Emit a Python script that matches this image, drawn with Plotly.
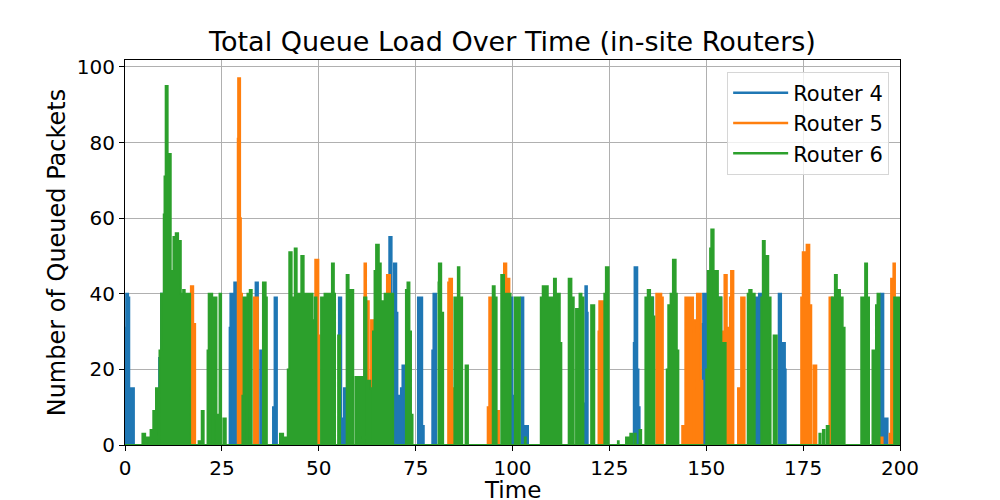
import plotly.graph_objects as go

# (time, queued packets) change points per router;
# each value holds until the next time
router4 = [
    (0, 31), (0.3, 40), (0.8, 39), (1.1, 5), (1.6, 15), (2.3, 0),
    (8.8, 23), (9.3, 40), (9.7, 0),
    (27.0, 31), (27.2, 40), (27.8, 0), (28.2, 43), (28.7, 0),
    (33.7, 43), (34.3, 0), (34.9, 25), (35.4, 0),
    (38.2, 10), (38.6, 39), (39.2, 0),
    (55.2, 39), (55.8, 7), (56.0, 0), (56.5, 15), (56.9, 0),
    (68.2, 55), (68.8, 30), (69.4, 48), (70.0, 35), (70.3, 0),
    (70.6, 13), (71.2, 15), (71.6, 21), (72.2, 0),
    (75.6, 39), (76.7, 5), (77.1, 0),
    (79.3, 25), (79.6, 40), (80.3, 0),
    (99.6, 39), (100.0, 13), (100.3, 0),
    (102.3, 39), (102.8, 0), (103.3, 5), (104.0, 0),
    (118.5, 11), (118.8, 42), (119.2, 35), (119.4, 0),
    (131.3, 27), (131.5, 47), (132.2, 20), (132.5, 10), (132.8, 0),
    (135.8, 39), (136.3, 0),
    (147.6, 39), (148.2, 0),
    (149.0, 32), (149.2, 40), (150.0, 0),
    (153.3, 39), (153.9, 0),
    (162.5, 30), (162.7, 39), (163.3, 0), (163.6, 40), (164.2, 0),
    (168.7, 40), (169.3, 0), (169.8, 27), (170.3, 20), (170.5, 0),
    (195.1, 40), (195.7, 0), (196.2, 7), (196.8, 0), (200, 0),
]

router5 = [
    (0, 0),
    (17.0, 42), (17.6, 32), (18.1, 0),
    (29.1, 81), (29.2, 97), (29.7, 60), (29.9, 40), (30.2, 0),
    (33.3, 39), (34.3, 0),
    (49.1, 49), (49.9, 29), (50.2, 0),
    (61.8, 48), (62.2, 0), (62.4, 38), (62.9, 0), (63.5, 33), (64.1, 0),
    (64.8, 46), (65.4, 0), (67.6, 45), (68.4, 38), (68.8, 0),
    (83.4, 43), (83.7, 44), (84.4, 15), (84.8, 0),
    (93.6, 10), (94.0, 39), (94.7, 0), (96.0, 9), (96.5, 0),
    (97.8, 48), (98.4, 0), (98.6, 44), (99.2, 0),
    (122.2, 30), (122.4, 38), (123.4, 0),
    (137.1, 40), (138.4, 39), (138.8, 0),
    (143.8, 5), (144.6, 39), (146.6, 0),
    (147.0, 33), (147.6, 40), (148.6, 17), (149.0, 0),
    (154.3, 30), (154.7, 45), (155.3, 0), (155.8, 31), (156.1, 39), (156.4, 46), (157.0, 0),
    (158.2, 15), (159.0, 39), (159.9, 0),
    (174.5, 39), (174.9, 51), (175.5, 40), (175.9, 53), (176.6, 37), (177.1, 0),
    (177.7, 21), (178.4, 0),
    (181.8, 39), (182.5, 0),
    (195.0, 2), (195.5, 0), (197.3, 3), (197.7, 44), (198.1, 0), (198.3, 48), (198.7, 0),
    (200, 0),
]

router6 = [
    (0, 0),
    (4.5, 3), (5.2, 0), (5.6, 2), (6.3, 0), (6.6, 4), (7.0, 0), (7.3, 9), (7.8, 0),
    (8.0, 15), (8.6, 0),
    (8.9, 25), (9.3, 40), (10.0, 61), (10.2, 71), (10.5, 95), (11.0, 77), (11.8, 46),
    (12.5, 55), (13.1, 56), (13.7, 40), (13.8, 54), (14.4, 40), (15.0, 41), (15.4, 39),
    (15.7, 40), (16.8, 0),
    (19.0, 1), (19.6, 0), (19.8, 9), (20.3, 0),
    (21.3, 25), (21.6, 40), (22.5, 0), (22.9, 39), (23.6, 0), (24.0, 8), (24.4, 40),
    (24.8, 0), (25.4, 7), (26.0, 0),
    (30.3, 13), (30.6, 39), (31.3, 0), (31.6, 40), (32.2, 41), (32.7, 0),
    (35.6, 43), (36.3, 39), (36.6, 0),
    (40.0, 3), (40.8, 0), (41.2, 2), (41.6, 0),
    (42.0, 20), (42.4, 51), (43.0, 39), (43.8, 52), (44.3, 40), (45.5, 50), (46.1, 40),
    (48.4, 33), (49.0, 39), (49.4, 0),
    (50.6, 39), (51.5, 40), (53.4, 48), (53.9, 40), (54.2, 0), (55.0, 29), (55.5, 0),
    (57.2, 45), (57.7, 41), (58.9, 0),
    (59.5, 18), (61.4, 0), (61.7, 39), (62.3, 0),
    (62.7, 17), (63.3, 15), (63.9, 0), (64.0, 30), (64.4, 46), (64.8, 53), (65.5, 48),
    (66.0, 38), (67.0, 40), (68.0, 39), (68.5, 40), (69.2, 0),
    (72.5, 41), (72.9, 43), (73.4, 30), (73.8, 8), (74.2, 0),
    (80.9, 43), (81.0, 48), (81.6, 35), (82.1, 0),
    (85.0, 39), (85.9, 47), (86.3, 39), (87.0, 0), (87.9, 21), (88.5, 0),
    (94.9, 42), (95.4, 39), (95.9, 0),
    (97.1, 45), (97.8, 40), (99.5, 0),
    (100.6, 39), (101.9, 0),
    (103.2, 2), (103.4, 0),
    (107.3, 39), (107.8, 42), (108.2, 39), (108.6, 42), (109.1, 39), (110.7, 44),
    (111.2, 40), (112.2, 27), (112.6, 0),
    (114.5, 44), (115.2, 39), (115.8, 0), (116.4, 36), (116.9, 0), (117.3, 40),
    (117.8, 39), (118.3, 0),
    (120.3, 37), (121.1, 0),
    (123.7, 40), (124.1, 47), (124.8, 0),
    (127.2, 1), (127.4, 0), (129.3, 2), (130.1, 0), (130.4, 3), (130.9, 0),
    (131.5, 3), (131.8, 0), (132.8, 4), (133.2, 0),
    (134.3, 39), (134.9, 41), (135.5, 39), (136.2, 34), (136.6, 0),
    (139.8, 20), (140.2, 37), (140.8, 40), (141.4, 49), (142.1, 40), (142.4, 25), (142.8, 0),
    (150.0, 20), (150.4, 46), (151.0, 52), (151.3, 57), (151.9, 39), (152.4, 46),
    (153.0, 39), (153.9, 27), (155.0, 0),
    (160.7, 40), (161.1, 41), (161.7, 40), (162.5, 0),
    (164.2, 39), (164.6, 54), (165.1, 39), (165.3, 50), (166.0, 39), (166.6, 0),
    (167.4, 29), (168.2, 0),
    (179.2, 3), (179.5, 0), (180.1, 4), (180.5, 0), (181.1, 5), (181.6, 0),
    (182.4, 39), (183.2, 45), (183.7, 39), (184.0, 41), (184.5, 39), (185.2, 31), (185.7, 0),
    (190.0, 39), (191.0, 48), (191.5, 39), (192.0, 0),
    (192.9, 25), (193.8, 37), (194.2, 40), (194.7, 0),
    (198.5, 39), (200, 39),
]

series = [("Router 4", router4, "#1f77b4"),
          ("Router 5", router5, "#ff7f0e"),
          ("Router 6", router6, "#2ca02c")]

x_ticks = [0, 25, 50, 75, 100, 125, 150, 175, 200]
y_ticks = [0, 20, 40, 60, 80, 100]

fig = go.Figure()

for name, pts, col in series:
    t = [p[0] for p in pts]
    q = [p[1] for p in pts]
    fig.add_trace(go.Scatter(
        x=t, y=q, mode="lines", line=dict(color=col, width=2, shape="hv"),
        fill="tozeroy", fillcolor=col, showlegend=False, name=name,
    ))

# line-style legend entries
for name, pts, col in series:
    fig.add_trace(go.Scatter(
        x=[None], y=[None], mode="lines", name=name,
        line=dict(color=col, width=2.5),
    ))

axis_common = dict(
    showline=True, mirror=True, linecolor="black", linewidth=1.2,
    showgrid=True, gridcolor="#b0b0b0", gridwidth=1.1,
    ticks="outside", ticklen=5, tickwidth=1.2, tickcolor="black",
    tickfont=dict(size=20, color="black"), zeroline=False, automargin=False,
)

fig.update_layout(
    width=1000, height=500,
    template="plotly_white",
    font=dict(family="DejaVu Sans", color="black"),
    title=dict(text="Total Queue Load Over Time (in-site Routers)",
               x=0.5125, xanchor="center", y=0.916, yanchor="middle",
               font=dict(size=27, color="black"), automargin=False),
    xaxis=dict(range=[0, 200], tickvals=x_ticks, **axis_common),
    yaxis=dict(range=[0, 101.85], tickvals=y_ticks, **axis_common),
    legend=dict(x=0.986, y=0.97, xanchor="right", yanchor="top",
                bgcolor="rgba(255,255,255,0.8)", bordercolor="#d6d6d6", borderwidth=1,
                font=dict(size=21, color="black"), itemwidth=55),
    margin=dict(l=125, r=100, t=60, b=55),
    plot_bgcolor="white", paper_bgcolor="white",
)

# axis titles as annotations so they sit where the reference has them
fig.add_annotation(text="Time", xref="paper", yref="paper", x=0.5, y=-0.118,
                   xanchor="center", yanchor="middle", showarrow=False,
                   font=dict(size=23, color="black"))
fig.add_annotation(text="Number of Queued Packets", xref="paper", yref="paper",
                   x=-0.088, y=0.5, xanchor="center", yanchor="middle",
                   textangle=-90, showarrow=False, font=dict(size=24, color="black"))

fig.write_html("out.html", config={"displayModeBar": False},
               post_script="document.body.style.margin='0';")
